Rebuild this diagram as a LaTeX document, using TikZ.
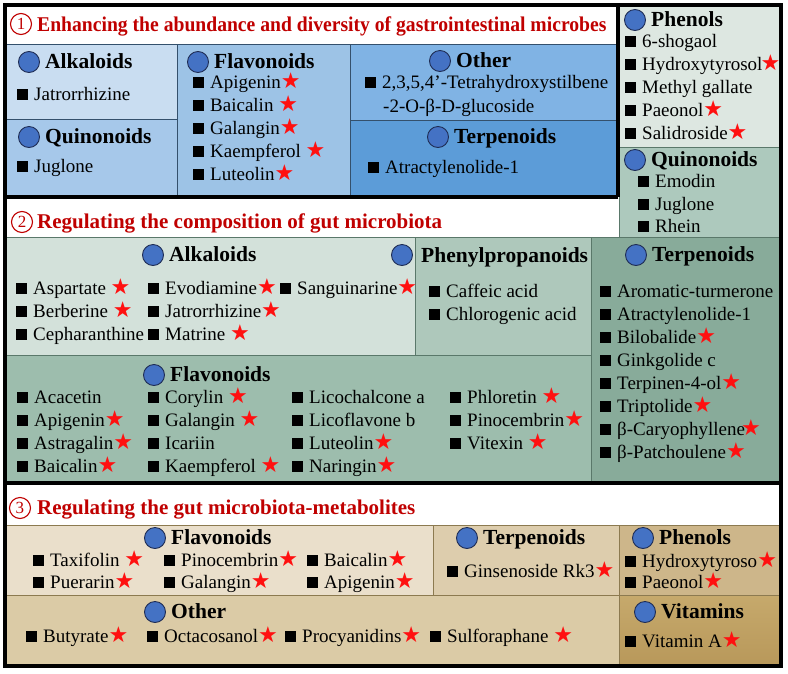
\documentclass[tikz,border=0pt]{standalone}
\usepackage{fontspec}
\usepackage{graphicx}
\setmainfont{Liberation Serif}
\newfontfamily\starfont{DejaVu Sans}
\definecolor{tred}{HTML}{C00000}
\definecolor{starred}{HTML}{FF1010}
\definecolor{cblue}{HTML}{4472C4}
\definecolor{cnavy}{HTML}{1F2D55}
\definecolor{bA}{HTML}{C9DDF1}
\definecolor{bB}{HTML}{A6C8EA}
\definecolor{bC}{HTML}{9DC3E6}
\definecolor{bD}{HTML}{80B3E4}
\definecolor{bE}{HTML}{5C9CD8}
\definecolor{bL}{HTML}{34506C}
\definecolor{gA}{HTML}{DDE7E1}
\definecolor{gB}{HTML}{ADC9BD}
\definecolor{gC}{HTML}{D3E1DA}
\definecolor{gD}{HTML}{AEC8BB}
\definecolor{gE}{HTML}{9DBDAD}
\definecolor{gF}{HTML}{88AB9A}
\definecolor{gL}{HTML}{5A786A}
\definecolor{yA}{HTML}{EADFCB}
\definecolor{yB}{HTML}{DDCDAD}
\definecolor{yC}{HTML}{CDB68A}
\definecolor{yD}{HTML}{DBCBA6}
\definecolor{yE}{HTML}{C6A96C}
\definecolor{yE2}{HTML}{B8985A}
\definecolor{yL}{HTML}{8C7A50}
\newcommand\sq{\rule{11pt}{11pt}\hspace{6pt}}
\newcommand\st{{\starfont\fontsize{22}{22}\selectfont\textcolor{starred}{★}}}
\tikzset{
  item/.style={anchor=base west, inner sep=0pt, font=\fontsize{19}{22}\selectfont},
  head/.style={anchor=base west, inner sep=0pt, font=\bfseries\fontsize{21.5}{24}\selectfont},
  ttl/.style={anchor=base west, inner sep=0pt, text=tred, font=\bfseries\fontsize{21}{24}\selectfont},
  dot/.style={circle, fill=cblue, draw=cnavy, line width=0.9pt, minimum size=21pt, inner sep=0pt},
  num/.style={circle, draw=tred, line width=1.1pt, minimum size=21pt, inner sep=0pt, text=tred, font=\fontsize{17}{17}\selectfont},
  bbox/.style={draw=bL, line width=1pt},
  gbox/.style={draw=gL, line width=1pt},
  ybox/.style={draw=yL, line width=1pt},
  frame/.style={line width=4pt, draw=black}
}
\newcommand\heading[5]{\node[dot] (#1c) at (#2,#3) {}; \node[head] (#1h) at (#2+16,#3+6.5) {#5#4};}
\begin{document}
\begin{tikzpicture}[x=1pt,y={(0pt,-1pt)}]
\useasboundingbox (0,0) rectangle (788,673);
\fill[white] (0,0) rectangle (788,673);
% ---------- section 1 boxes
\path[fill=bA, bbox] (5,44) rectangle (177,119);
\path[fill=bB, bbox] (5,119) rectangle (177,196);
\path[fill=bC, bbox] (177,44) rectangle (350,196);
\path[fill=bD, bbox] (350,44) rectangle (617,120);
\path[fill=bE, bbox] (350,120) rectangle (617,196);
% right column
\path[fill=gA, gbox] (619,5) rectangle (781,147);
\path[fill=gB, gbox] (619,147) rectangle (781,237);
% ---------- section 2 boxes
\path[fill=gC, gbox] (5,237) rectangle (415,355);
\path[fill=gD, gbox] (415,237) rectangle (591,355);
\path[fill=gE, gbox] (5,355) rectangle (591,483);
\path[fill=gF, gbox] (591,237) rectangle (781,483);
% ---------- section 3 boxes
\path[fill=yA, ybox] (5,525) rectangle (433,595);
\path[fill=yB, ybox] (433,525) rectangle (619,595);
\path[fill=yC, ybox] (619,525) rectangle (781,595);
\path[fill=yD, ybox] (5,595) rectangle (619,666);
\path[top color=yE, bottom color=yE2, ybox] (619,595) rectangle (781,666);
% ---------- thick frames
\draw[frame] (5,5) rectangle (781,666);
\draw[frame] (5,196.5) -- (617.5,196.5);
\draw[frame] (617.5,5) -- (617.5,196.5);
\draw[frame] (5,483) -- (781,483);
% ---------- titles
\node[num] (n1) at (21,24) {1};
\node[ttl] (t1) at (37,31) {\scalebox{0.935}[1]{Enhancing the abundance and diversity of gastrointestinal microbes}};
\node[num] (n2) at (22,222) {2};
\node[ttl] (t2) at (37,228) {Regulating the composition of gut microbiota};
\node[num] (n3) at (20,508) {3};
\node[ttl] (t3) at (37,514) {Regulating the gut microbiota-metabolites};
% ---------- section 1 content
\heading{sa}{29}{62}{Alkaloids}{}
\node[item] (sa1) at (17,100) {\sq Jatrorrhizine};
\heading{sq}{29}{137}{Quinonoids}{}
\node[item] (sq1) at (17,172) {\sq Juglone};
\heading{sf}{198}{62}{Flavonoids}{}
\node[item] (sf1) at (193,88) {\sq Apigenin\st};
\node[item] (sf2) at (193,111) {\sq Baicalin \st};
\node[item] (sf3) at (193,134) {\sq Galangin\st};
\node[item] (sf4) at (193,157) {\sq Kaempferol \st};
\node[item] (sf5) at (193,180) {\sq Luteolin\st};
\heading{so}{440}{61}{Other}{}
\node[item] (so1) at (365,88) {\sq 2,3,5,4'-Tetrahydroxystilbene};
\node[item] (so2) at (383,112) {-2-O-β-D-glucoside};
\heading{st}{438}{137}{Terpenoids}{}
\node[item] (st1) at (368,173) {\sq Atractylenolide-1};
% right column
\heading{rp}{635}{20}{Phenols}{}
\node[item] (rp1) at (625,47) {\sq 6-shogaol};
\node[item] (rp2) at (625,70) {\sq Hydroxytyrosol\kern-2pt\st};
\node[item] (rp3) at (625,93) {\sq Methyl gallate};
\node[item] (rp4) at (625,116) {\sq Paeonol\st};
\node[item] (rp5) at (625,139) {\sq Salidroside\st};
\heading{rq}{635}{160}{Quinonoids}{}
\node[item] (rq1) at (638,187) {\sq Emodin};
\node[item] (rq2) at (638,210) {\sq Juglone};
\node[item] (rq3) at (638,232) {\sq Rhein};
% ---------- section 2 content
\heading{ma}{153}{255}{Alkaloids}{}
\node[item] (ma1) at (16,294) {\sq Aspartate \st};
\node[item] (ma2) at (16,317) {\sq Berberine \st};
\node[item] (ma3) at (16,340) {\sq Cepharanthine};
\node[item] (ma4) at (148,294) {\sq Evodiamine\st};
\node[item] (ma5) at (148,317) {\sq Jatrorrhizine\st};
\node[item] (ma6) at (148,340) {\sq Matrine \st};
\node[item] (ma7) at (280,294) {\sq Sanguinarine\st};
\node[dot] (mpc) at (402,255) {};
\node[head] (mph) at (421,262) {Phenylpropanoids};
\node[item] (mp1) at (429,297) {\sq Caffeic acid};
\node[item] (mp2) at (429,320) {\sq Chlorogenic acid};
\heading{mt}{636}{255}{Terpenoids}{}
\node[item] (mt1) at (600,297) {\sq Aromatic-turmerone};
\node[item] (mt2) at (600,320) {\sq Atractylenolide-1};
\node[item] (mt3) at (600,343) {\sq Bilobalide\st};
\node[item] (mt4) at (600,366) {\sq Ginkgolide c};
\node[item] (mt5) at (600,389) {\sq Terpinen-4-ol\st};
\node[item] (mt6) at (600,412) {\sq Triptolide\st};
\node[item] (mt7) at (600,435) {\sq β-Caryophyllene\kern-4pt\st};
\node[item] (mt8) at (600,458) {\sq β-Patchoulene\st};
\heading{mf}{154}{375}{Flavonoids}{}
\node[item] (mf1) at (17,403) {\sq Acacetin};
\node[item] (mf2) at (17,426) {\sq Apigenin\st};
\node[item] (mf3) at (17,449) {\sq Astragalin\st};
\node[item] (mf4) at (17,472) {\sq Baicalin\st};
\node[item] (mf5) at (148,403) {\sq Corylin \st};
\node[item] (mf6) at (148,426) {\sq Galangin \st};
\node[item] (mf7) at (148,449) {\sq Icariin};
\node[item] (mf8) at (148,472) {\sq Kaempferol \st};
\node[item] (mf9) at (292,403) {\sq Licochalcone a};
\node[item] (mf10) at (292,426) {\sq Licoflavone b};
\node[item] (mf11) at (292,449) {\sq Luteolin\st};
\node[item] (mf12) at (292,472) {\sq Naringin\st};
\node[item] (mf13) at (450,403) {\sq Phloretin \st};
\node[item] (mf14) at (450,426) {\sq Pinocembrin\st};
\node[item] (mf15) at (450,449) {\sq Vitexin \st};
% ---------- section 3 content
\heading{uf}{155}{538}{Flavonoids}{}
\node[item] (uf1) at (33,566) {\sq Taxifolin \st};
\node[item] (uf2) at (33,588) {\sq Puerarin\st};
\node[item] (uf3) at (164,566) {\sq Pinocembrin\st};
\node[item] (uf4) at (164,588) {\sq Galangin\st};
\node[item] (uf5) at (307,566) {\sq Baicalin\st};
\node[item] (uf6) at (307,588) {\sq Apigenin\st};
\heading{ut}{467}{538}{Terpenoids}{}
\node[item] (ut1) at (447,577) {\sq Ginsenoside Rk3\st};
\heading{up}{643}{538}{Phenols}{}
\node[item] (up1) at (625,567) {\sq Hydroxytyroso\st};
\node[item] (up2) at (625,588) {\sq Paeonol\st};
\heading{uo}{155}{612}{Other}{}
\node[item] (uo1) at (26,642) {\sq Butyrate\st};
\node[item] (uo2) at (147,642) {\sq Octacosanol\st};
\node[item] (uo3) at (285,642) {\sq Procyanidins\st};
\node[item] (uo4) at (430,642) {\sq Sulforaphane \st};
\heading{uv}{645}{612}{Vitamins}{}
\node[item] (uv1) at (625,647) {\sq Vitamin A\st};
\end{tikzpicture}
\end{document}
